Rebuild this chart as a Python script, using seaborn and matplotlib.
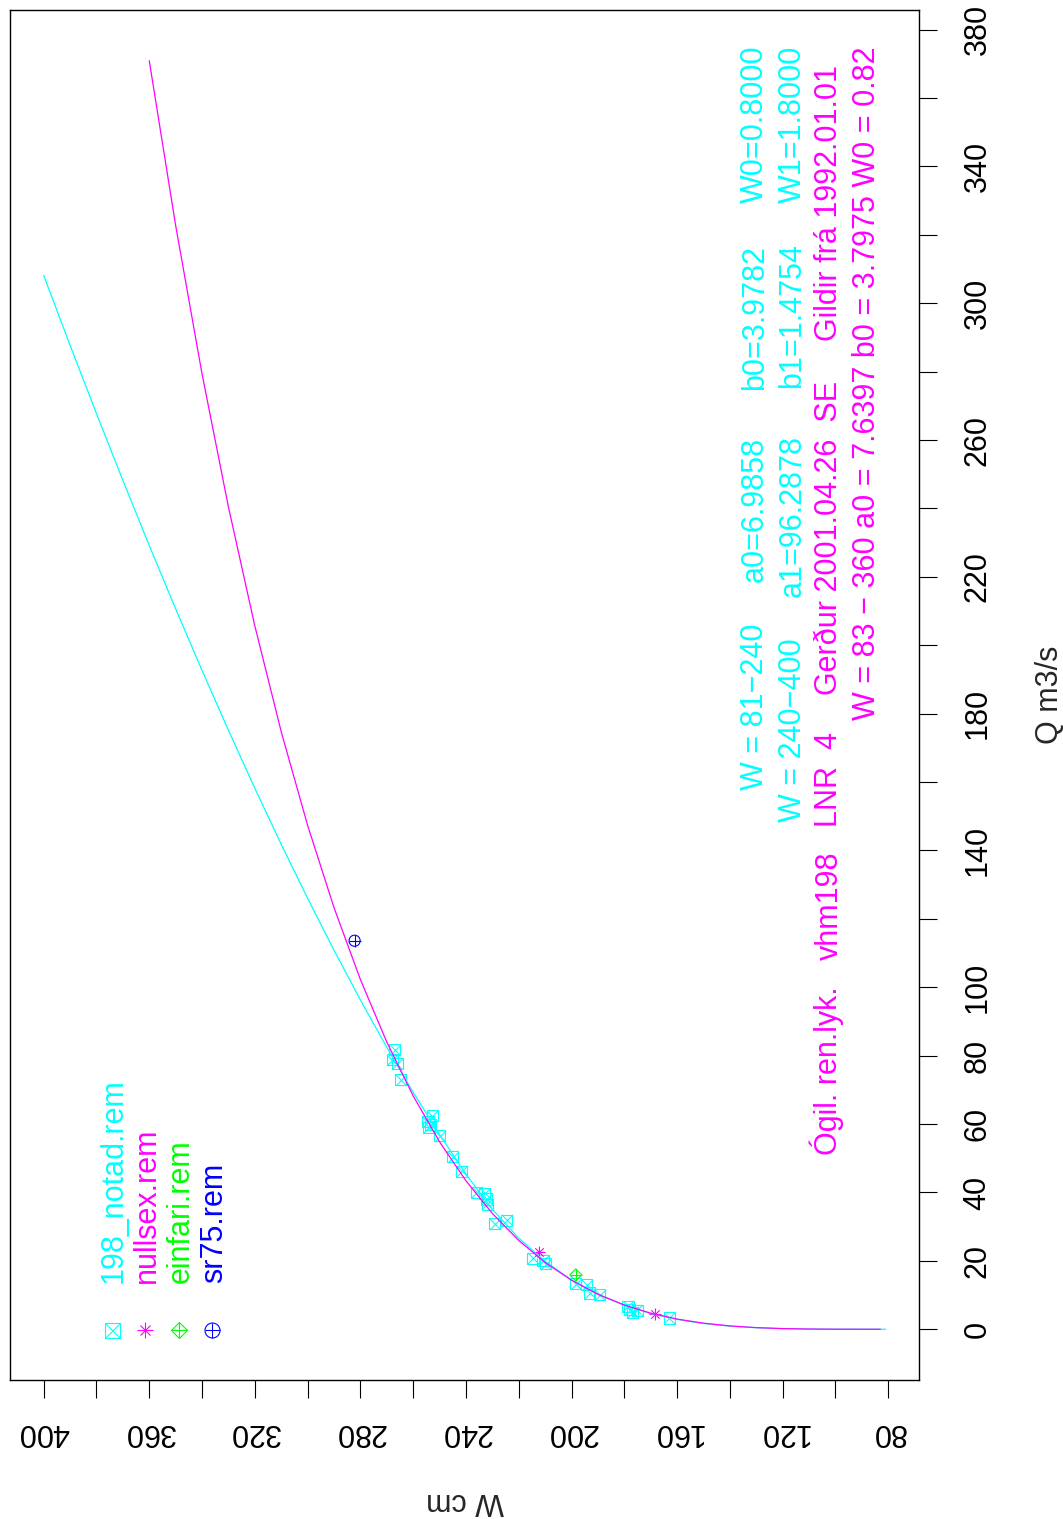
import matplotlib
matplotlib.use('Agg')
import matplotlib.pyplot as plt
import seaborn as sns

# Colours used by the R plot
CYAN = '#00FFFF'
MAGENTA = '#FF00FF'
GREEN = '#00FF00'
BLUE = '#0000FF'

w_notad = [267.0, 267.9, 266.0, 264.8, 252.7, 254.4, 254.0, 253.4, 249.9, 245.1,
           241.6, 236.0, 232.9, 232.2, 231.9, 229.1, 224.5, 214.6, 210.8, 209.8,
           198.4, 194.3, 193.1, 189.3, 178.6, 177.9, 176.9, 175.1, 163.0]
q_notad = [81.7, 78.8, 77.7, 73.0, 62.4, 60.7, 59.1, 59.8, 56.6, 50.4,
           46.2, 40.1, 39.8, 38.1, 36.6, 30.9, 31.8, 20.8, 20.1, 19.1,
           13.3, 13.0, 10.6, 10.1, 6.7, 5.7, 4.9, 5.5, 3.3]
w_nullsex = [212.3, 168.2]
q_nullsex = [22.6, 4.5]
w_einfari = [198.4]
q_einfari = [15.9]
w_sr75 = [282.2]
q_sr75 = [113.6]

# Rating curves as drawn (cyan: 198_notad, magenta: valid curve)
w_curve_old = [81, 90, 100, 110, 120, 130, 140, 150, 160, 170, 180, 190, 200, 210, 220, 230,
               240, 250, 260, 270, 280, 290, 300, 310, 320, 330, 340, 350, 360, 370, 380, 390, 400]
q_curve_old = [0.0, 0.001, 0.012, 0.058, 0.18, 0.44, 0.92, 1.69, 2.88, 4.59, 6.99, 10.21, 14.43,
               19.84, 26.64, 35.06, 45.32, 56.89, 69.28, 82.43, 96.29, 110.83, 126.01, 141.80,
               158.19, 175.15, 192.64, 210.65, 229.18, 248.23, 267.74, 287.72, 308.16]
w_curve_new = [83, 90, 100, 110, 120, 130, 140, 150, 160, 170, 180, 190, 200, 210, 220, 230,
               240, 250, 260, 270, 280, 290, 300, 310, 320, 330, 340, 350, 360]
q_curve_new = [0.0, 0.0005, 0.011, 0.061, 0.19, 0.47, 0.97, 1.77, 2.97, 4.70, 7.08, 10.23, 14.32,
               19.51, 25.96, 33.86, 43.40, 54.79, 68.24, 83.98, 102.25, 123.29, 147.35, 174.72,
               205.67, 240.44, 279.35, 322.75, 370.91]

# Axis ticks
w_ticks = list(range(80, 401, 20))
w_tick_labels = ['80', '', '120', '', '160', '', '200', '', '240', '', '280', '', '320', '', '360', '', '400']
q_ticks = list(range(0, 381, 20))
q_tick_labels = ['0', '20', '40', '60', '80', '100', '', '140', '', '180', '', '220', '', '260',
                 '', '300', '', '340', '', '380']

legend_names = ['198_notad.rem', 'nullsex.rem', 'einfari.rem', 'sr75.rem']
legend_colors = [CYAN, MAGENTA, GREEN, BLUE]

sns.set_theme(style='ticks', rc={'axes.edgecolor': 'black', 'xtick.color': 'black',
                                 'ytick.color': 'black', 'axes.linewidth': 1.0})
plt.rcParams['font.family'] = ['Liberation Sans', 'DejaVu Sans']

FS = 22

fig = plt.figure(figsize=(10.63, 15.19), dpi=100)
ax = fig.add_axes([0.00941, 0.09151, 0.8554, 0.9019])

# points: R pch symbols built from two markers each
sns.scatterplot(x=w_notad, y=q_notad, marker='s', s=64, color='none', edgecolor=CYAN, linewidth=0.8, ax=ax)
sns.scatterplot(x=w_notad, y=q_notad, marker='x', s=64, color=CYAN, linewidth=0.8, ax=ax)
sns.scatterplot(x=w_nullsex, y=q_nullsex, marker='+', s=74, color=MAGENTA, linewidth=0.8, ax=ax)
sns.scatterplot(x=w_nullsex, y=q_nullsex, marker='x', s=37, color=MAGENTA, linewidth=0.8, ax=ax)
sns.scatterplot(x=w_einfari, y=q_einfari, marker='D', s=37, color='none', edgecolor=GREEN, linewidth=0.8, ax=ax)
sns.scatterplot(x=w_einfari, y=q_einfari, marker='+', s=74, color=GREEN, linewidth=0.8, ax=ax)
sns.scatterplot(x=w_sr75, y=q_sr75, marker='o', s=64, color='none', edgecolor=BLUE, linewidth=0.8, ax=ax)
sns.scatterplot(x=w_sr75, y=q_sr75, marker='+', s=64, color=BLUE, linewidth=0.8, ax=ax)

sns.lineplot(x=w_curve_old, y=q_curve_old, color=CYAN, linewidth=0.9, estimator=None, ax=ax)
sns.lineplot(x=w_curve_new, y=q_curve_new, color=MAGENTA, linewidth=0.9, estimator=None, ax=ax)

ax.set_xlim(412.76, 68.24)
ax.set_ylim(-14.84, 385.75)

ax.set_xticks(w_ticks, w_tick_labels, rotation=180, fontsize=FS)
ax.yaxis.tick_right()
ax.set_yticks(q_ticks, q_tick_labels, rotation=90, va='center', fontsize=FS)
ax.tick_params(axis='x', length=13, width=0.8, pad=13.4)
ax.tick_params(axis='y', length=13, width=0.8, pad=18)
for side in ['top', 'right', 'bottom', 'left']:
    ax.spines[side].set_visible(True)

ax.set_xlabel('W cm', fontsize=FS, rotation=180)
ax.xaxis.set_label_coords(0.5, -0.0777)
ax.yaxis.set_label_position('right')
ax.set_ylabel('Q m3/s', fontsize=FS)
ax.yaxis.set_label_coords(1.127, 0.5)


def note(fx, fy, s, color):
    ax.text(fx, fy, s, transform=ax.transAxes, rotation=90, rotation_mode='anchor',
            ha='left', va='baseline', color=color, fontsize=FS)


# curve parameters written along the right side
note(0.8281, 0.4307, 'W = 81\u2212240', CYAN)
note(0.8281, 0.5825, 'a0=6.9858', CYAN)
note(0.8281, 0.7226, 'b0=3.9782', CYAN)
note(0.8281, 0.8591, 'W0=0.8000', CYAN)
note(0.8694, 0.4073, 'W = 240\u2212400', CYAN)
note(0.8694, 0.5715, 'a1=96.2878', CYAN)
note(0.8694, 0.7241, 'b1=1.4754', CYAN)
note(0.8694, 0.8591, 'W1=1.8000', CYAN)
note(0.9100, 0.1642, 'Ógil. ren.lyk.', MAGENTA)
note(0.9100, 0.3066, 'vhm198', MAGENTA)
note(0.9100, 0.4036, 'LNR  4', MAGENTA)
note(0.9100, 0.5000, 'Gerður 2001.04.26  SE', MAGENTA)
note(0.9100, 0.7584, 'Gildir frá 1992.01.01', MAGENTA)
note(0.9513, 0.4818, 'W = 83 \u2212 360 a0 = 7.6397 b0 = 3.7975 W0 = 0.82', MAGENTA)

# legend, drawn sideways like the rotated page
leg_mx = [0.1118, 0.1485, 0.1859, 0.2218]
leg_tx = [0.1228, 0.1598, 0.1969, 0.2337]
kw = dict(transform=ax.transAxes, linestyle='none', clip_on=False, markeredgewidth=0.8)
ax.plot(leg_mx[0], 0.0365, marker='s', ms=10.8, mfc='none', mec=CYAN, **kw)
ax.plot(leg_mx[0], 0.0365, marker='x', ms=10.8, mec=CYAN, **kw)
ax.plot(leg_mx[1], 0.0365, marker='+', ms=11, mec=MAGENTA, **kw)
ax.plot(leg_mx[1], 0.0365, marker='x', ms=7.8, mec=MAGENTA, **kw)
ax.plot(leg_mx[2], 0.0365, marker='D', ms=7.8, mfc='none', mec=GREEN, **kw)
ax.plot(leg_mx[2], 0.0365, marker='+', ms=11, mec=GREEN, **kw)
ax.plot(leg_mx[3], 0.0365, marker='o', ms=10.8, mfc='none', mec=BLUE, **kw)
ax.plot(leg_mx[3], 0.0365, marker='+', ms=10.8, mec=BLUE, **kw)
for fx, name, col in zip(leg_tx, legend_names, legend_colors):
    note(fx, 0.0708, name, col)

fig.savefig('out.png', dpi=100)
